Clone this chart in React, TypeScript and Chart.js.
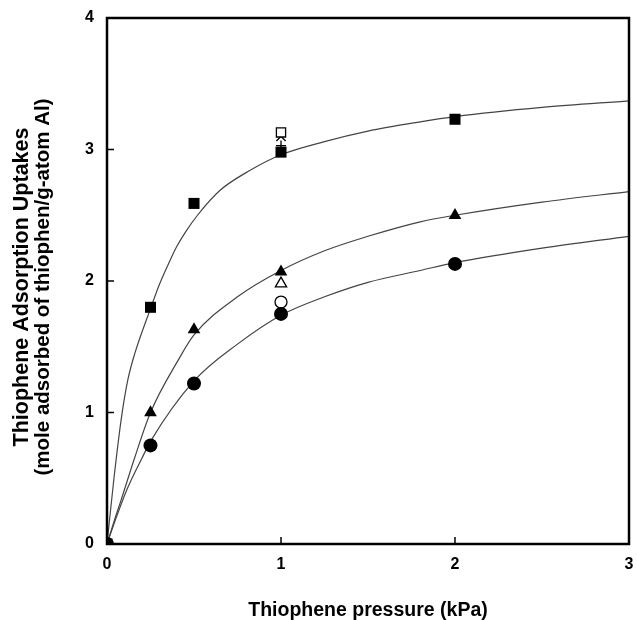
import React, { useEffect, useRef } from "react";
import { Chart, registerables } from "chart.js";

Chart.register(...registerables);

// Measured points (filled symbols)
const pressure = [0, 0.25, 0.5, 1, 2];
const squareVals = [0, 1.8, 2.59, 2.98, 3.23];
const triangleVals = [0, 1.0, 1.63, 2.07, 2.5];
const circleVals = [0, 0.75, 1.22, 1.75, 2.13];

// Extra (open) symbols at 1 kPa
const openSquare = [{ x: 1, y: 3.13 }];
const crossSymbol = [{ x: 1, y: 3.1 }];
const plusSymbol = [{ x: 1, y: 3.03 }];
const openTriangle = [{ x: 1, y: 1.98 }];
const openCircle = [{ x: 1, y: 1.84 }];

// Fitted curves
const topCurveX = [0, 0.04, 0.085, 0.12, 0.16, 0.25, 0.3, 0.36, 0.4, 0.45, 0.52, 0.65, 0.82, 1.0, 1.25, 1.5, 1.8, 2.0, 2.5, 3.0];
const topCurveY = [0, 0.5, 0.98, 1.25, 1.45, 1.79, 1.97, 2.15, 2.26, 2.37, 2.5, 2.69, 2.84, 2.96, 3.06, 3.14, 3.21, 3.25, 3.32, 3.37];
const midCurveX = [0, 0.04, 0.08, 0.16, 0.25, 0.41, 0.5, 0.75, 1.0, 1.25, 1.5, 1.8, 2.0, 2.5, 3.0];
const midCurveY = [0, 0.17, 0.33, 0.66, 1.0, 1.4, 1.59, 1.88, 2.08, 2.23, 2.34, 2.45, 2.5, 2.6, 2.68];
const lowCurveX = [0, 0.05, 0.11, 0.2, 0.25, 0.5, 0.75, 1.0, 1.25, 1.5, 1.8, 2.0, 2.5, 3.0];
const lowCurveY = [0, 0.19, 0.4, 0.65, 0.78, 1.24, 1.52, 1.74, 1.88, 1.99, 2.08, 2.14, 2.25, 2.34];

const xTicks = [0, 1, 2, 3];
const yTicks = [0, 1, 2, 3, 4];

const xTitle = "Thiophene pressure (kPa)";
const yTitle = ["Thiophene Adsorption Uptakes", "(mole adsorbed of thiophen/g-atom Al)"];

const FONT = "'Liberation Sans', Arial, Helvetica, sans-serif";

const zip = (xs: number[], ys: number[]) => xs.map((x, i) => ({ x, y: ys[i] }));

const frame = {
  id: "frame",
  afterDraw(chart: any) {
    const { ctx, chartArea } = chart;
    const { left, right, top, bottom } = chartArea;
    ctx.save();
    ctx.strokeStyle = "#000";
    ctx.lineWidth = 1.5;
    const xs = chart.scales.x;
    const ys = chart.scales.y;
    xTicks.forEach((v) => {
      if (v === xTicks[0] || v === xTicks[xTicks.length - 1]) return;
      const px = xs.getPixelForValue(v);
      ctx.beginPath();
      ctx.moveTo(px, bottom);
      ctx.lineTo(px, bottom - 7);
      ctx.stroke();
    });
    yTicks.forEach((v) => {
      if (v === yTicks[0] || v === yTicks[yTicks.length - 1]) return;
      const py = ys.getPixelForValue(v);
      ctx.beginPath();
      ctx.moveTo(left, py);
      ctx.lineTo(left + 7, py);
      ctx.stroke();
    });
    ctx.lineWidth = 2.5;
    ctx.strokeRect(left, top, right - left, bottom - top);

    // two-line y-axis title (first line slightly larger, as in the original)
    const cy = (top + bottom) / 2 + 6;
    ctx.fillStyle = "#000";
    ctx.textAlign = "center";
    ctx.textBaseline = "middle";
    const sizes = [21.5, 20.5];
    const xsPos = [22, 43];
    yTitle.forEach((line, i) => {
      ctx.save();
      ctx.translate(xsPos[i], cy);
      ctx.rotate(-Math.PI / 2);
      ctx.font = `bold ${sizes[i]}px ${FONT}`;
      ctx.fillText(line, 0, 0);
      ctx.restore();
    });
    ctx.restore();
  },
};

export default function App() {
  const ref = useRef<HTMLCanvasElement>(null);
  useEffect(() => {
    if (!ref.current) return;
    const lineStyle = {
      showLine: true,
      pointRadius: 0,
      borderColor: "#444",
      borderWidth: 1.2,
      backgroundColor: "transparent",
      cubicInterpolationMode: "monotone" as const,
    };
    const chart = new Chart(ref.current, {
      type: "scatter",
      data: {
        datasets: [
          { label: "sq", data: zip(pressure, squareVals), pointStyle: "rect", pointRadius: 7.8, backgroundColor: "#000", borderColor: "#000", borderWidth: 0 },
          { label: "tri", data: zip(pressure, triangleVals), pointStyle: "triangle", pointRadius: 7.3, backgroundColor: "#000", borderColor: "#000", borderWidth: 0 },
          { label: "ci", data: zip(pressure, circleVals), pointStyle: "circle", pointRadius: 7, backgroundColor: "#000", borderColor: "#000", borderWidth: 0 },
          { label: "osq", data: openSquare, pointStyle: "rect", pointRadius: 6.5, backgroundColor: "#fff", borderColor: "#000", borderWidth: 1.3 },
          { label: "x", data: crossSymbol, pointStyle: "crossRot", pointRadius: 6.5, borderColor: "#000", borderWidth: 1.3 },
          { label: "plus", data: plusSymbol, pointStyle: "cross", pointRadius: 5, borderColor: "#000", borderWidth: 1.3 },
          { label: "otri", data: openTriangle, pointStyle: "triangle", pointRadius: 6.5, backgroundColor: "#fff", borderColor: "#000", borderWidth: 1.3 },
          { label: "oci", data: openCircle, pointStyle: "circle", pointRadius: 6, backgroundColor: "#fff", borderColor: "#000", borderWidth: 1.3 },
          { label: "top", data: zip(topCurveX, topCurveY), ...lineStyle },
          { label: "mid", data: zip(midCurveX, midCurveY), ...lineStyle },
          { label: "low", data: zip(lowCurveX, lowCurveY), ...lineStyle },
        ],
      },
      options: {
        responsive: false,
        animation: false,
        layout: { padding: { top: 18, right: 8, left: 0, bottom: 0 } },
        plugins: { legend: { display: false }, tooltip: { enabled: false } },
        scales: {
          x: {
            type: "linear",
            min: 0,
            max: 3,
            afterFit: (s: any) => { s.height = 76; s.paddingLeft = 0; s.paddingRight = 0; },
            afterBuildTicks: (s: any) => { s.ticks = xTicks.map((v) => ({ value: v })); },
            grid: { display: false, drawTicks: false },
            border: { display: false },
            ticks: { color: "#000", padding: 11, font: { family: FONT, size: 16, weight: "bold" } },
            title: { display: true, text: xTitle, color: "#000", padding: { top: 0, bottom: 0 }, font: { family: FONT, size: 19.5, weight: "bold", lineHeight: 1.0 } },
          },
          y: {
            type: "linear",
            min: 0,
            max: 4,
            afterFit: (s: any) => { s.width = 107; s.paddingTop = 0; s.paddingBottom = 0; },
            afterBuildTicks: (s: any) => { s.ticks = yTicks.map((v) => ({ value: v })); },
            grid: { display: false, drawTicks: false },
            border: { display: false },
            ticks: { color: "#000", padding: 13, font: { family: FONT, size: 16, weight: "bold" } },
            title: { display: false },
          },
        },
      },
      plugins: [frame],
    });
    return () => chart.destroy();
  }, []);
  return (
    <div style={{ position: "absolute", left: 0, top: 0, width: 637, height: 620, background: "#fff" }}>
      <canvas ref={ref} width={637} height={620} />
    </div>
  );
}
